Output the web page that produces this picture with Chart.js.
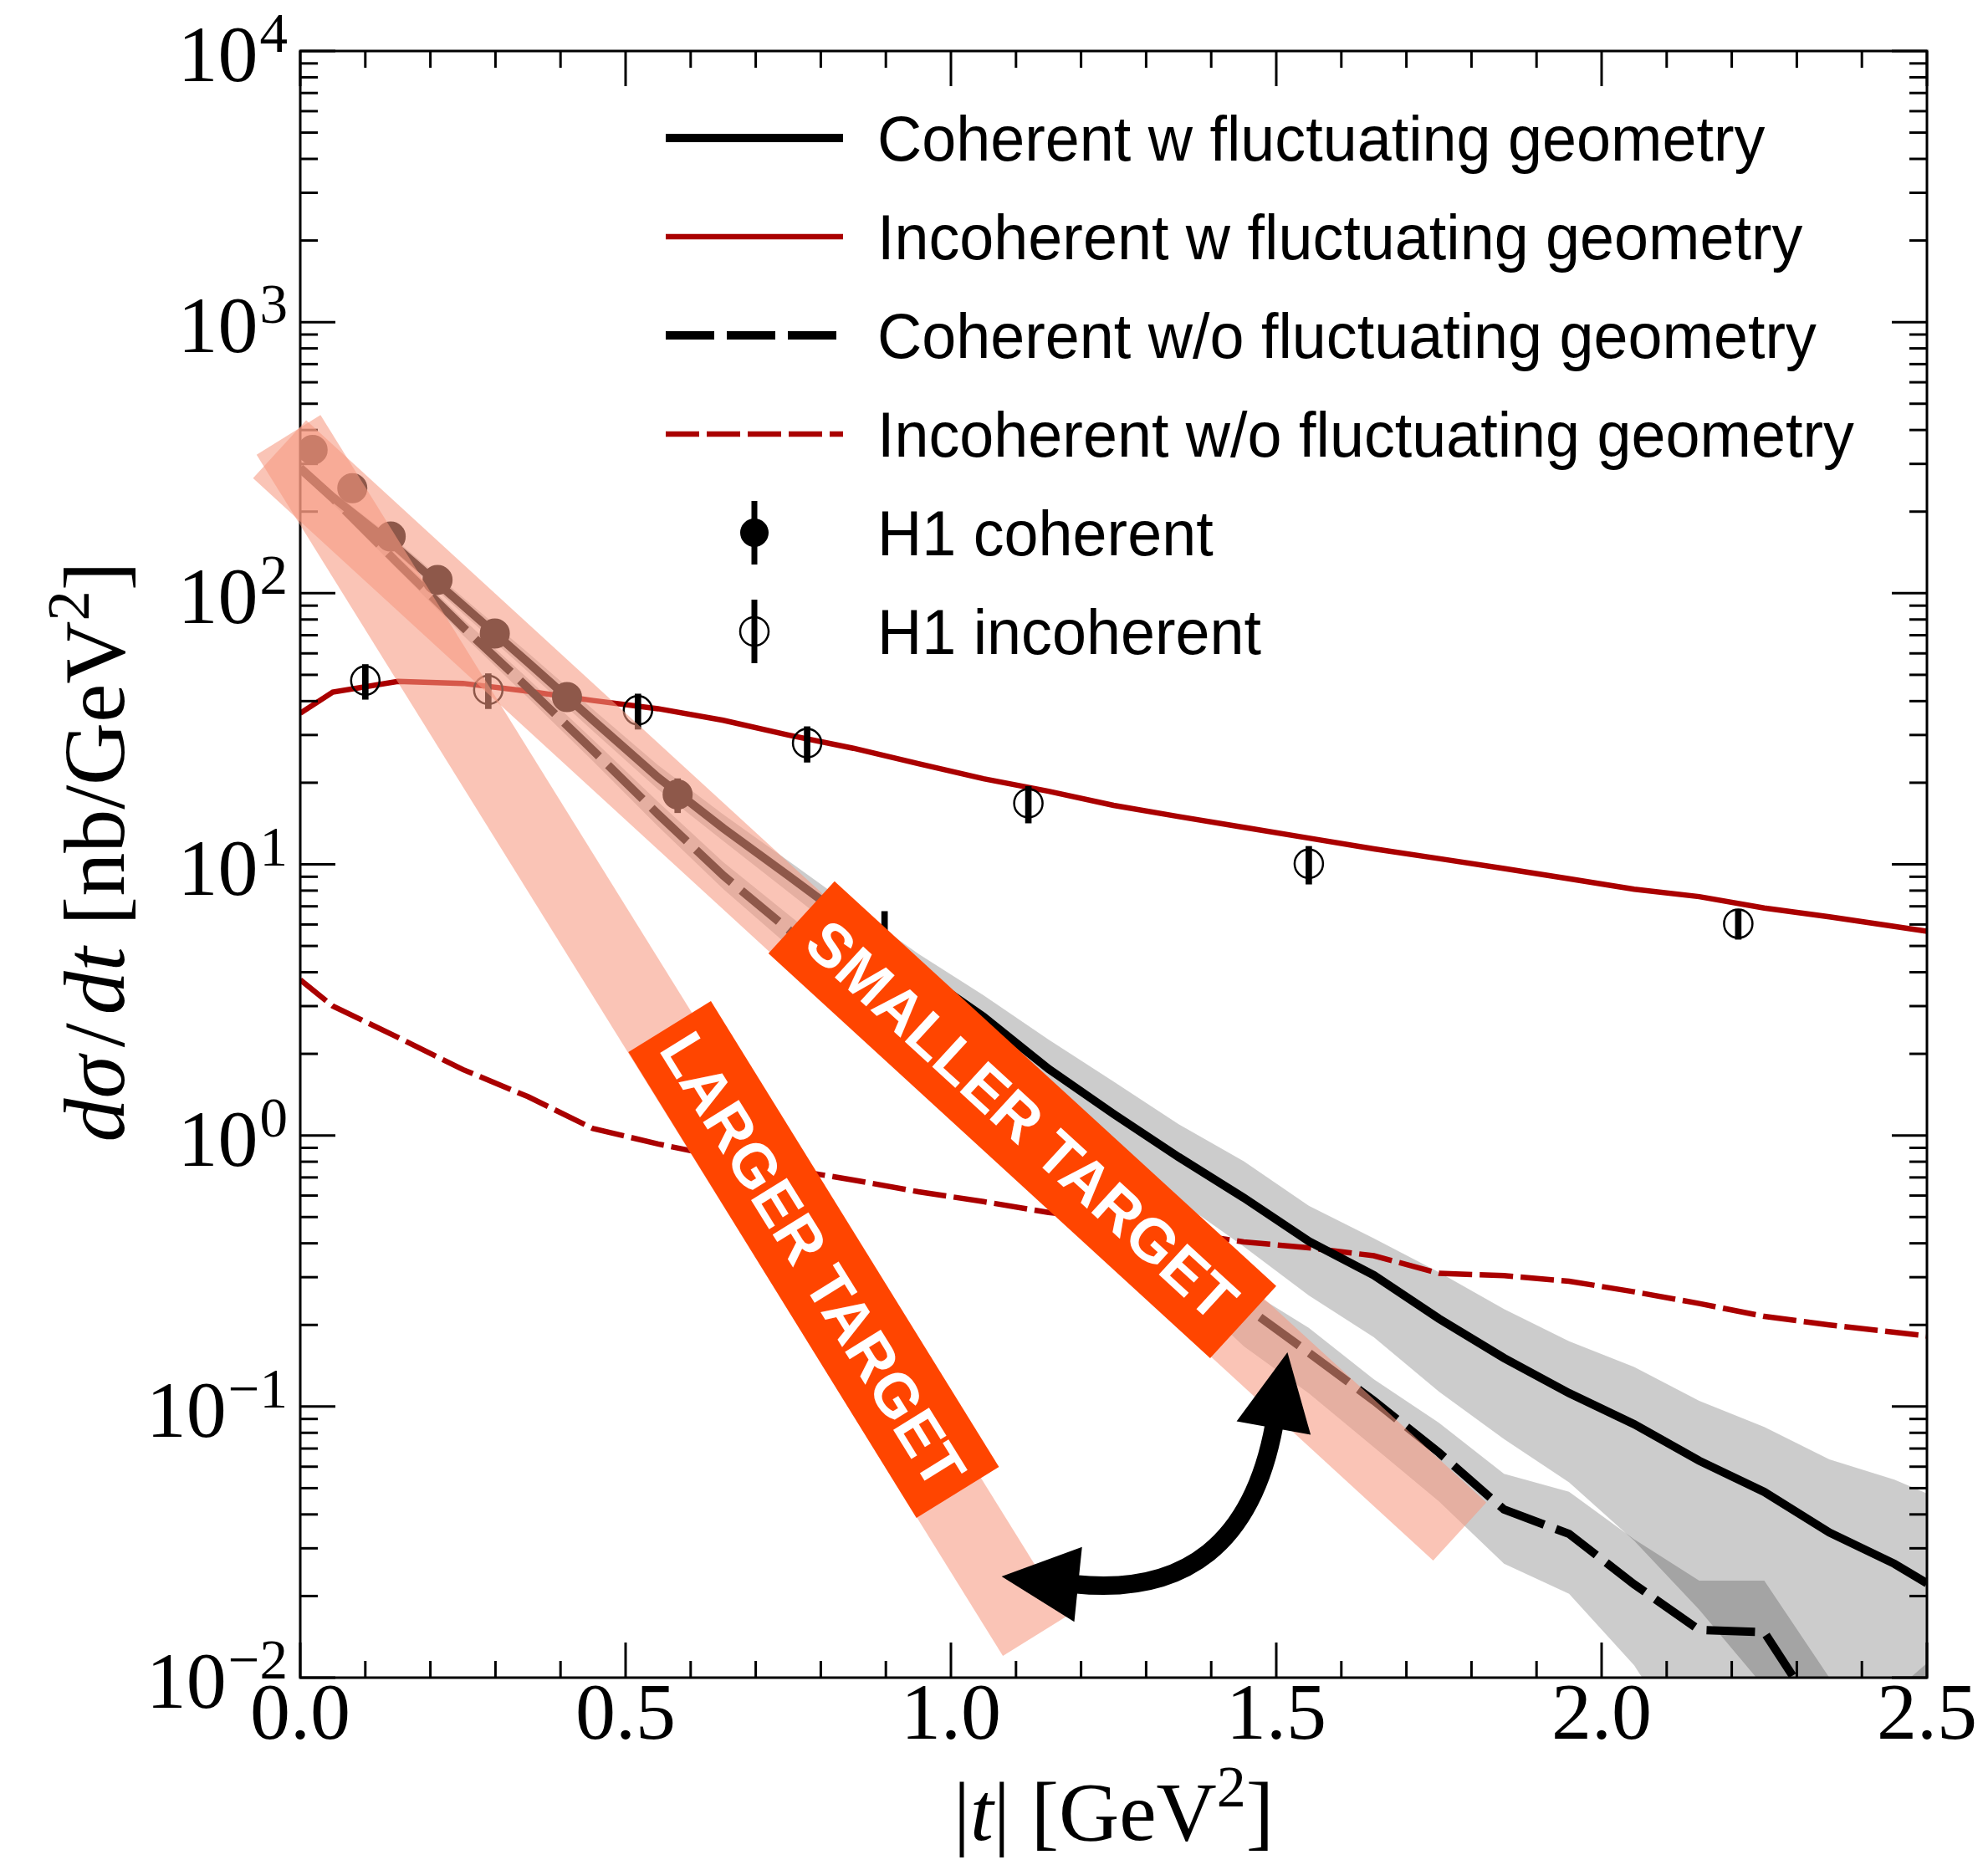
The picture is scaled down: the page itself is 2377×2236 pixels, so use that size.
<!DOCTYPE html>
<html>
<head>
<meta charset="utf-8">
<script src="https://cdn.jsdelivr.net/npm/chart.js@4.4.1/dist/chart.umd.min.js"></script>
<style>
  html, body { margin: 0; padding: 0; background: #ffffff; }
  #wrap { width: 2377px; height: 2236px; }
</style>
</head>
<body>
<div id="wrap"><canvas id="c" width="2377" height="2236"></canvas></div>
<script>
// |t| grid [GeV^2] of the model curves
const tGrid = [0, 0.05, 0.15, 0.25, 0.35, 0.45, 0.55, 0.65, 0.75, 0.85, 0.95, 1.05, 1.15, 1.25, 1.35,
               1.45, 1.55, 1.65, 1.75, 1.85, 1.95, 2.05, 2.15, 2.25, 2.35, 2.45, 2.5];

// Coherent, with fluctuating geometry (central value and uncertainty band) [nb/GeV^2]
const cohFluct   = [290, 226, 146, 90.2, 55.6, 34.0, 20.9, 13.6, 9.08, 6.03, 4.03, 2.74, 1.76, 1.20, 0.832,
                    0.589, 0.407, 0.305, 0.211, 0.151, 0.112, 0.0861, 0.0631, 0.0484, 0.0343, 0.0263, 0.0223];
const cohFluctHi = [303, 237, 155, 96.6, 60.3, 37.3, 23.2, 15.3, 10.3, 6.92, 4.68, 3.29, 2.26, 1.58, 1.10,
                    0.804, 0.550, 0.417, 0.313, 0.229, 0.174, 0.140, 0.105, 0.0841, 0.0638, 0.0537, 0.0478];
const cohFluctLo = [277, 216, 138, 84.1, 51.3, 31.0, 18.9, 12.2, 7.91, 5.13, 3.27, 2.17, 1.33, 0.871, 0.575,
                    0.389, 0.257, 0.180, 0.1135, 0.0759, 0.0525, 0.0320, 0.0178, 0.00923, 0.00484, 0.00263, 0.00199];

// Coherent, without fluctuating geometry
const cohNoFluct   = [288, 224, 129, 75, 44.7, 26.3, 15.3, 9.1, 5.75, 3.63, 2.29, 1.445, 0.912, 0.582, 0.372,
                      0.236, 0.158, 0.105, 0.0676, 0.0417, 0.0339, 0.0221, 0.0150, 0.0147, 0.0063, 0.0032, 0.0025];
const cohNoFluctHi = [301, 234, 137, 80.4, 48.4, 28.8, 17.0, 10.2, 6.53, 4.17, 2.66, 1.70, 1.084, 0.692, 0.437,
                      0.275, 0.195, 0.126, 0.0871, 0.0565, 0.0485, 0.0324, 0.0228, 0.0228, 0.0100, 0.0089, 0.0113];
const cohNoFluctLo = [275, 214, 122, 70.0, 41.2, 24.0, 13.8, 8.11, 5.01, 3.09, 1.91, 1.175, 0.724, 0.452, 0.282,
                      0.167, 0.112, 0.0708, 0.0447, 0.0263, 0.0204, 0.0111, 0.00474, 0.00234, 0.0010, 0.00063, 0.0005];

// Incoherent, with and without fluctuating geometry
const incohFluct   = [36.1, 43.2, 47.3, 46.5, 43.5, 40.2, 37.5, 34.0, 30.0, 26.8, 23.5, 20.7, 18.6, 16.5, 15.0,
                      13.7, 12.5, 11.4, 10.5, 9.65, 8.85, 8.1, 7.6, 6.9, 6.4, 5.9, 5.66];
const incohNoFluct = [3.75, 3.0, 2.3, 1.75, 1.39, 1.06, 0.93, 0.83, 0.75, 0.685, 0.62, 0.57, 0.52, 0.49, 0.44,
                      0.405, 0.385, 0.36, 0.31, 0.304, 0.29, 0.265, 0.24, 0.215, 0.2, 0.188, 0.182];

// H1 measurements
const h1CohT   = [0.019, 0.080, 0.139, 0.211, 0.299, 0.410, 0.580, 0.898];
const h1CohVal = [338, 244, 162, 112, 71, 41.4, 18.1, 4.9];
const h1CohErr = [30, 22, 15, 10, 7, 4.5, 2.6, 1.8];
const h1IncT   = [0.100, 0.289, 0.519, 0.779, 1.119, 1.550, 2.210];
const h1IncVal = [47.6, 44.0, 37.0, 28.0, 16.8, 10.05, 6.04];
const h1IncErr = [7.0, 6.5, 5.5, 4.2, 2.6, 1.6, 0.75];

// Axis ticks
const yExponents = [-2, -1, 0, 1, 2, 3, 4];
const xTickStep = 0.5;

// Highlight annotations, anchored in data coordinates (|t|, dsigma/dt)
const largerBand  = [[-0.018, 384], [1.129, 0.01423]];
const smallerBand = [[-0.0317, 340], [1.782, 0.0346]];
const largerTag   = [[0.5677, 2.52], [1.0104, 0.0482]];
const smallerTag  = [[0.7703, 6.38], [1.4492, 0.2047]];
const largerText  = 'LARGER TARGET';
const smallerText = 'SMALLER TARGET';
const arrowFrom = [1.0779, 0.0236];
const arrowCtrl = [1.4473, 0.0191];
const arrowTo   = [1.5172, 0.1585];

const SERIF = '"Liberation Serif", "DejaVu Serif", serif';
const SANS  = '"Liberation Sans", Arial, sans-serif';
const RED = '#aa0000';
const PINK = 'rgba(247,153,129,0.575)';
const ORANGE = '#ff4500';
const GREY = 'rgba(0,0,0,0.2)';
const CLEAR = 'rgba(0,0,0,0)';

const pts = (xs, ys) => xs.map((x, i) => ({ x: x, y: ys[i] }));
const pairs = arr => arr.map(p => ({ x: p[0], y: p[1] }));

const datasets = [
  { label: 'fluct band low', data: pts(tGrid, cohFluctLo), borderColor: CLEAR, borderWidth: 1, fill: false, order: 100 },
  { label: 'fluct band high', data: pts(tGrid, cohFluctHi), borderColor: CLEAR, borderWidth: 1, fill: '-1', backgroundColor: GREY, order: 99 },
  { label: 'no-fluct band low', data: pts(tGrid, cohNoFluctLo), borderColor: CLEAR, borderWidth: 1, fill: false, order: 98 },
  { label: 'no-fluct band high', data: pts(tGrid, cohNoFluctHi), borderColor: CLEAR, borderWidth: 1, fill: '-1', backgroundColor: GREY, order: 97 },

  { label: 'Incoherent w/o fluctuating geometry', data: pts(tGrid, incohNoFluct), borderColor: RED, borderWidth: 6.5,
    borderDash: [40, 9], fill: false, order: 90, legendRow: 3 },
  { label: 'Incoherent w fluctuating geometry', data: pts(tGrid, incohFluct), borderColor: RED, borderWidth: 6.5,
    fill: false, order: 89, legendRow: 1 },
  { label: 'Coherent w/o fluctuating geometry', data: pts(tGrid, cohNoFluct), borderColor: '#000', borderWidth: 10,
    borderDash: [58, 15], fill: false, order: 88, legendRow: 2 },
  { label: 'Coherent w fluctuating geometry', data: pts(tGrid, cohFluct), borderColor: '#000', borderWidth: 10,
    fill: false, order: 87, legendRow: 0 },

  { type: 'bar', label: 'H1 coherent errors', data: h1CohT.map((t, i) => ({ x: t, y: [h1CohVal[i] - h1CohErr[i], h1CohVal[i] + h1CohErr[i]] })),
    backgroundColor: '#000', borderWidth: 0, barThickness: 7, grouped: false, order: 80 },
  { label: 'H1 coherent', data: pts(h1CohT, h1CohVal), showLine: false, pointStyle: 'circle', pointRadius: 17,
    pointBackgroundColor: '#000', pointBorderColor: '#000', pointBorderWidth: 2, order: 79, legendRow: 4, marker: 'filled' },
  { type: 'bar', label: 'H1 incoherent errors', data: h1IncT.map((t, i) => ({ x: t, y: [h1IncVal[i] - h1IncErr[i], h1IncVal[i] + h1IncErr[i]] })),
    backgroundColor: '#000', borderWidth: 0, barThickness: 7, grouped: false, order: 78 },
  { label: 'H1 incoherent', data: pts(h1IncT, h1IncVal), showLine: false, pointStyle: 'circle', pointRadius: 17,
    pointBackgroundColor: CLEAR, pointBorderColor: '#000', pointBorderWidth: 2.5, order: 77, legendRow: 5, marker: 'open',
    frameAfter: true },

  { label: 'larger target band', data: pairs(largerBand), borderColor: PINK, borderWidth: 90, borderCapStyle: 'butt',
    fill: false, clip: false, order: 60 },
  { label: 'smaller target band', data: pairs(smallerBand), borderColor: PINK, borderWidth: 94, borderCapStyle: 'butt',
    fill: false, clip: false, order: 59 },
  { label: 'larger target tag', data: pairs(largerTag), borderColor: ORANGE, borderWidth: 116, borderCapStyle: 'butt',
    fill: false, clip: false, order: 50, tagText: largerText },
  { label: 'smaller target tag', data: pairs(smallerTag), borderColor: ORANGE, borderWidth: 117, borderCapStyle: 'butt',
    fill: false, clip: false, order: 49, tagText: smallerText }
];

// ---- text helpers -------------------------------------------------------
function layoutRich(ctx, parts, size) {
  let w = 0;
  const items = parts.map(p => {
    const s = p.sup ? size * 0.7 : size;
    const font = (p.italic ? 'italic ' : '') + s + 'px ' + SERIF;
    ctx.font = font;
    const width = ctx.measureText(p.text).width;
    const it = { text: p.text, font: font, dx: w, dy: p.sup ? -size * 0.4 : 0 };
    w += width + (p.gap || 0);
    return it;
  });
  return { items: items, width: w };
}
function drawRich(ctx, parts, x, y, size) {
  const r = layoutRich(ctx, parts, size);
  ctx.textAlign = 'left';
  ctx.textBaseline = 'alphabetic';
  r.items.forEach(it => {
    ctx.font = it.font;
    ctx.fillText(it.text, x - r.width / 2 + it.dx, y + it.dy);
  });
}

// ---- frame, inward ticks -------------------------------------------------
function drawFrame(chart) {
  const { ctx, chartArea: a, scales: { x, y } } = chart;
  ctx.save();
  ctx.strokeStyle = '#000';
  ctx.lineWidth = 3;
  ctx.lineCap = 'butt';
  const seg = (x1, y1, x2, y2) => { ctx.beginPath(); ctx.moveTo(x1, y1); ctx.lineTo(x2, y2); ctx.stroke(); };
  const nx = Math.round((x.max - x.min) / 0.1);
  for (let i = 0; i <= nx; i++) {
    const v = x.min + i * 0.1;
    const px = x.getPixelForValue(v);
    const len = (i % 5 === 0) ? 42 : 20;
    seg(px, a.bottom, px, a.bottom - len);
    seg(px, a.top, px, a.top + len);
  }
  for (let k = yExponents[0]; k <= yExponents[yExponents.length - 1]; k++) {
    for (let m = 1; m <= 9; m++) {
      const v = m * Math.pow(10, k);
      if (v > y.max * 1.0001) break;
      const py = y.getPixelForValue(v);
      const len = (m === 1) ? 42 : 21;
      seg(a.left, py, a.left + len, py);
      seg(a.right, py, a.right - len, py);
    }
  }
  ctx.strokeRect(a.left, a.top, a.right - a.left, a.bottom - a.top);
  ctx.restore();
}

// ---- annotation tags and arrow --------------------------------------------
function drawTags(chart) {
  const ctx = chart.ctx;
  chart.data.datasets.forEach((ds, i) => {
    if (!ds.tagText) return;
    const el = chart.getDatasetMeta(i).data;
    const p0 = el[0], p1 = el[1];
    const ang = Math.atan2(p1.y - p0.y, p1.x - p0.x);
    const cx = (p0.x + p1.x) / 2, cy = (p0.y + p1.y) / 2;
    const size = 73;
    ctx.save();
    ctx.translate(cx, cy);
    ctx.rotate(ang);
    ctx.font = 'bold ' + size + 'px ' + SANS;
    ctx.fillStyle = '#ffffff';
    ctx.textAlign = 'center';
    ctx.textBaseline = 'alphabetic';
    ctx.fillText(ds.tagText, 0, size * 0.716 / 2);
    ctx.restore();
  });
}

function drawArrow(chart) {
  const { ctx, scales: { x, y } } = chart;
  const P = p => ({ x: x.getPixelForValue(p[0]), y: y.getPixelForValue(p[1]) });
  const p0 = P(arrowFrom), c = P(arrowCtrl), p2 = P(arrowTo);
  const unit = (dx, dy) => { const l = Math.hypot(dx, dy); return { x: dx / l, y: dy / l }; };
  const d0 = unit(c.x - p0.x, c.y - p0.y);
  const d2 = unit(c.x - p2.x, c.y - p2.y);
  const headLen = 92, headHalf = 45;
  const b0 = { x: p0.x + d0.x * headLen, y: p0.y + d0.y * headLen };
  const b2 = { x: p2.x + d2.x * headLen, y: p2.y + d2.y * headLen };
  ctx.save();
  ctx.strokeStyle = '#000';
  ctx.fillStyle = '#000';
  ctx.lineWidth = 22;
  ctx.lineCap = 'butt';
  ctx.beginPath();
  ctx.moveTo(b0.x - d0.x * 4, b0.y - d0.y * 4);
  ctx.quadraticCurveTo(c.x, c.y, b2.x - d2.x * 4, b2.y - d2.y * 4);
  ctx.stroke();
  [[p0, d0, b0], [p2, d2, b2]].forEach(([tip, d, b]) => {
    ctx.beginPath();
    ctx.moveTo(tip.x, tip.y);
    ctx.lineTo(b.x - d.y * headHalf, b.y + d.x * headHalf);
    ctx.lineTo(b.x + d.y * headHalf, b.y - d.x * headHalf);
    ctx.closePath();
    ctx.fill();
  });
  ctx.restore();
}

// ---- legend ---------------------------------------------------------------
function drawLegend(chart) {
  const ctx = chart.ctx;
  const rows = chart.data.datasets.filter(d => d.legendRow !== undefined)
                                  .sort((a, b) => a.legendRow - b.legendRow);
  const x0 = 796, x1 = 1008, tx = 1049, y0 = 165, dy = 118;
  ctx.save();
  rows.forEach((ds, r) => {
    const yy = y0 + r * dy;
    if (ds.marker) {
      const mx = (x0 + x1) / 2;
      ctx.fillStyle = '#000';
      ctx.fillRect(mx - 3.5, yy - 38, 7, 76);
      ctx.beginPath();
      ctx.arc(mx, yy, 17, 0, Math.PI * 2);
      if (ds.marker === 'filled') { ctx.fill(); }
      else { ctx.lineWidth = 2.5; ctx.strokeStyle = '#000'; ctx.stroke(); }
    } else {
      ctx.strokeStyle = ds.borderColor;
      ctx.lineWidth = ds.borderWidth;
      ctx.lineCap = 'butt';
      ctx.setLineDash(ds.borderDash || []);
      ctx.beginPath();
      ctx.moveTo(x0, yy);
      ctx.lineTo(x1, yy);
      ctx.stroke();
      ctx.setLineDash([]);
    }
    ctx.save();
    ctx.translate(tx, yy + 27);
    ctx.scale(0.97, 1);
    ctx.font = '76px ' + SANS;
    ctx.fillStyle = '#000';
    ctx.textAlign = 'left';
    ctx.textBaseline = 'alphabetic';
    ctx.fillText(ds.label, 0, 0);
    ctx.restore();
  });
  ctx.restore();
}

// ---- y tick labels and axis titles ------------------------------------------
function drawAxisText(chart) {
  const { ctx, chartArea: a, scales: { y } } = chart;
  ctx.save();
  ctx.fillStyle = '#000';
  const right = a.left - 15;
  yExponents.forEach(k => {
    const py = y.getPixelForValue(Math.pow(10, k));
    const ex = k < 0 ? '\u2212' + (-k) : String(k);
    ctx.textBaseline = 'alphabetic';
    ctx.textAlign = 'right';
    ctx.font = '67px ' + SERIF;
    const ew = ctx.measureText(ex).width;
    ctx.fillText(ex, right, py + 1);
    ctx.font = '96px ' + SERIF;
    ctx.fillText('10', right - ew - 2, py + 36);
  });

  // x title: |t| [GeV^2]
  drawRich(ctx, [
    { text: '|' }, { text: 't', italic: true }, { text: '| [GeV' }, { text: '2', sup: true }, { text: ']' }
  ], (a.left + a.right) / 2, 2200, 100);

  // y title: dsigma/dt [nb/GeV^2]
  ctx.save();
  ctx.translate(148, (a.top + a.bottom) / 2 - 15);
  ctx.rotate(-Math.PI / 2);
  drawRich(ctx, [
    { text: 'd', italic: true }, { text: '\u03c3', italic: true, gap: 10 }, { text: '/', gap: 10 },
    { text: 'd', italic: true }, { text: 't', italic: true }, { text: ' [nb/GeV' }, { text: '2', sup: true }, { text: ']' }
  ], 0, 0, 104);
  ctx.restore();
  ctx.restore();
}

const overlayPlugin = {
  id: 'overlay',
  afterDatasetDraw(chart, args) {
    if (chart.data.datasets[args.index].frameAfter) drawFrame(chart);
  },
  afterDatasetsDraw(chart) {
    drawTags(chart);
    drawArrow(chart);
  },
  afterDraw(chart) {
    drawLegend(chart);
    drawAxisText(chart);
  }
};

new Chart(document.getElementById('c').getContext('2d'), {
  type: 'line',
  data: { datasets: datasets },
  options: {
    responsive: false,
    animation: false,
    devicePixelRatio: 1,
    events: [],
    layout: { padding: { left: 0, right: 73, top: 61, bottom: 0 } },
    elements: { line: { tension: 0 }, point: { radius: 0 } },
    plugins: { legend: { display: false }, tooltip: { enabled: false } },
    scales: {
      x: {
        type: 'linear', min: 0, max: 2.5, offset: false,
        ticks: {
          stepSize: xTickStep, autoSkip: false, maxRotation: 0, padding: 0, color: '#000',
          font: { family: SERIF, size: 96, lineHeight: 1 },
          callback: v => Number(v).toFixed(1)
        },
        grid: { display: false, drawTicks: false },
        border: { display: false },
        afterFit: s => { s.height = 230; }
      },
      y: {
        type: 'logarithmic', min: 0.01, max: 10000,
        ticks: { display: false },
        grid: { display: false, drawTicks: false },
        border: { display: false },
        afterFit: s => { s.width = 359; }
      }
    }
  },
  plugins: [overlayPlugin]
});
</script>
</body>
</html>
